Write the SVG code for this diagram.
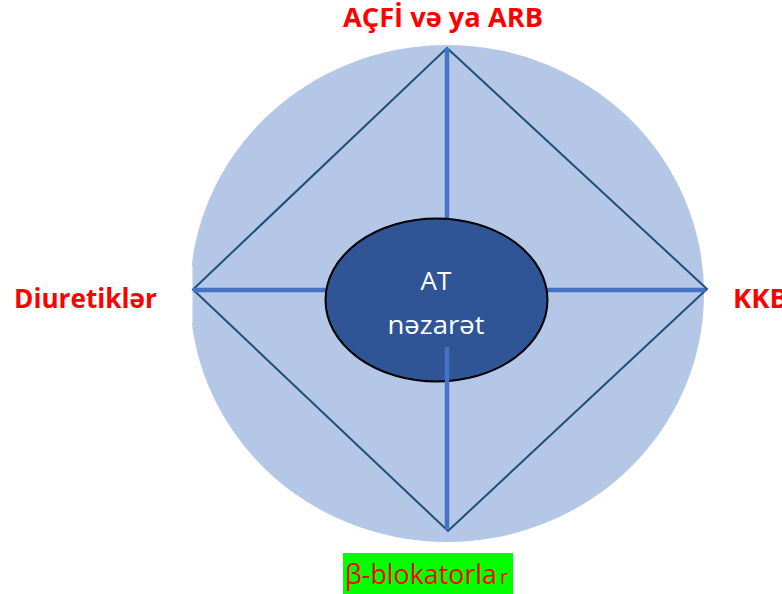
<svg xmlns="http://www.w3.org/2000/svg" width="782" height="594" viewBox="0 0 782 594">
  <style>
    .lbl { font-family: "Open Sans", "Liberation Sans", sans-serif; font-weight: bold; fill: #FF0000; font-size: 26px; }
    .edge { stroke: #1F4E79; stroke-width: 2; fill: none; }
    .spoke { stroke: #4472C4; stroke-width: 4.5; fill: none; }
    .core { font-family: "Open Sans", "Liberation Sans", sans-serif; fill: #FFFFFF; font-size: 26px; text-anchor: middle; }
  </style>
  <rect width="782" height="594" fill="#FFFFFF"/>

  <!-- background disc -->
  <g id="disc">
    <ellipse cx="447" cy="293.5" rx="257" ry="248.5" fill="#B4C7E7"/>
    <rect x="180" y="266" width="12.5" height="57" fill="#FFFFFF"/>
  </g>

  <!-- diamond and spokes -->
  <g id="connectors">
    <polygon class="edge" points="447,48 707,289 448,531 193,289.5"/>
    <line class="spoke" x1="447" y1="48" x2="447" y2="220"/>
    <line class="spoke" x1="193" y1="290" x2="327" y2="290"/>
    <line class="spoke" x1="546" y1="290" x2="705" y2="290"/>
  </g>

  <g id="center">
    <ellipse cx="436.5" cy="300" rx="111" ry="81.5" fill="#2F5597" stroke="#000000" stroke-width="2"/>
    <text class="core" x="436" y="290">AT</text>
    <text class="core" x="436" y="334" textLength="97" lengthAdjust="spacingAndGlyphs">nəzarət</text>
  </g>

  <g id="bottom-spoke">
    <line class="spoke" x1="447" y1="347" x2="447" y2="530"/>
  </g>

  <g id="top-label">
    <text class="lbl" x="343" y="27" textLength="200" lengthAdjust="spacingAndGlyphs">AÇFİ və ya ARB</text>
  </g>
  <g id="left-label">
    <text class="lbl" x="14" y="308" textLength="143" lengthAdjust="spacingAndGlyphs">Diuretiklər</text>
  </g>
  <g id="right-label">
    <text class="lbl" x="733" y="308" textLength="55" lengthAdjust="spacingAndGlyphs">KKB</text>
  </g>
  <g id="bottom-label">
    <rect x="343" y="553" width="170" height="41" fill="#00FF00"/>
    <text x="345" y="584" font-family="Open Sans, Liberation Sans, sans-serif" font-size="28" fill="#FF0000" textLength="152" lengthAdjust="spacingAndGlyphs">β-blokatorla</text>
    <text x="500" y="584" font-family="Open Sans, Liberation Sans, sans-serif" font-size="20" fill="#FF0000">r</text>
  </g>
</svg>
